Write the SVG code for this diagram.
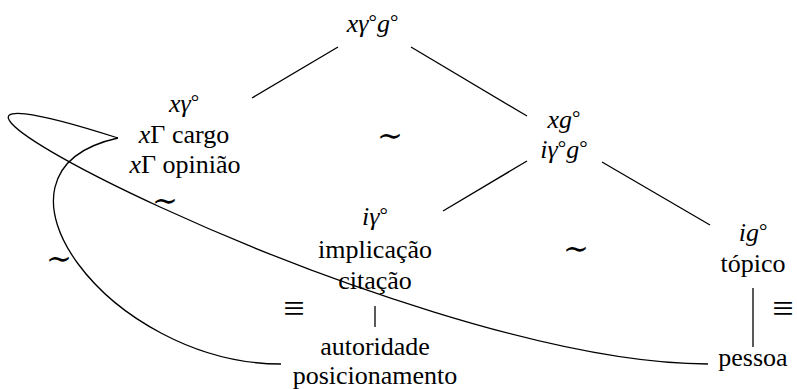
<svg xmlns="http://www.w3.org/2000/svg" width="797" height="389" viewBox="0 0 797 389">
<style>
text{fill:#000}
.t{font-family:"Liberation Serif","Times New Roman",serif;font-size:26px;text-anchor:middle}
.m{font-style:italic}
.r{font-size:21px;font-style:normal}
.s{font-family:"Liberation Serif","DejaVu Serif",serif;font-size:31px;text-anchor:middle}
.q{font-family:"Liberation Serif","DejaVu Serif",serif;font-size:38px;text-anchor:middle}
.e{stroke:#000;stroke-width:1.3;fill:none}
</style>
<rect width="797" height="389" fill="#fff"/>
<g id="connectors">
<line class="e" x1="338" y1="47" x2="252" y2="98"/>
<line class="e" x1="411" y1="47" x2="527" y2="116"/>
<line class="e" x1="527" y1="161" x2="443" y2="211"/>
<line class="e" x1="602" y1="162" x2="710" y2="225"/>
<line class="e" x1="375" y1="306" x2="375" y2="327"/>
<line class="e" x1="753" y1="288" x2="753" y2="347"/>
<path class="e" d="M118,138 C-250,20 400,364 708,364"/>
<path class="e" d="M118,138 C-35,172 110,364 281,364"/>
</g>
<g id="n-top">
<text class="t" x="372.5" y="32"><tspan class="m">xγ</tspan><tspan class="r" dy="-3">°</tspan><tspan class="m" dy="3">g</tspan><tspan class="r" dy="-3">°</tspan></text>
</g>
<g id="n-xgamma">
<text class="t" x="184" y="112"><tspan class="m">xγ</tspan><tspan class="r" dy="-3">°</tspan></text>
<text class="t" x="184" y="143"><tspan class="m">x</tspan>Γ cargo</text>
<text class="t" x="185" y="173"><tspan class="m">x</tspan>Γ opinião</text>
</g>
<g id="n-xg">
<text class="t" x="564" y="128"><tspan class="m">xg</tspan><tspan class="r" dy="-3">°</tspan></text>
<text class="t" x="564" y="158"><tspan class="m">iγ</tspan><tspan class="r" dy="-3">°</tspan><tspan class="m" dy="3">g</tspan><tspan class="r" dy="-3">°</tspan></text>
</g>
<g id="n-igamma">
<text class="t" x="375" y="225"><tspan class="m">iγ</tspan><tspan class="r" dy="-3">°</tspan></text>
<text class="t" x="375" y="258">implicação</text>
<text class="t" x="375" y="289">citação</text>
</g>
<g id="n-autoridade">
<text class="t" x="375" y="355">autoridade</text>
<text class="t" x="375" y="384">posicionamento</text>
</g>
<g id="n-ig">
<text class="t" x="753" y="241"><tspan class="m">ig</tspan><tspan class="r" dy="-3">°</tspan></text>
<text class="t" x="753" y="272">tópico</text>
</g>
<g id="n-pessoa">
<text class="t" x="753" y="366">pessoa</text>
</g>
<g id="relations">
<text class="s" x="390" y="146">∼</text>
<text class="s" x="576" y="259">∼</text>
<text class="s" x="165" y="211">∼</text>
<text class="s" x="59" y="269">∼</text>
<text class="q" x="294" y="320.5">≡</text>
<text class="q" x="783" y="320.5">≡</text>
</g>
</svg>
